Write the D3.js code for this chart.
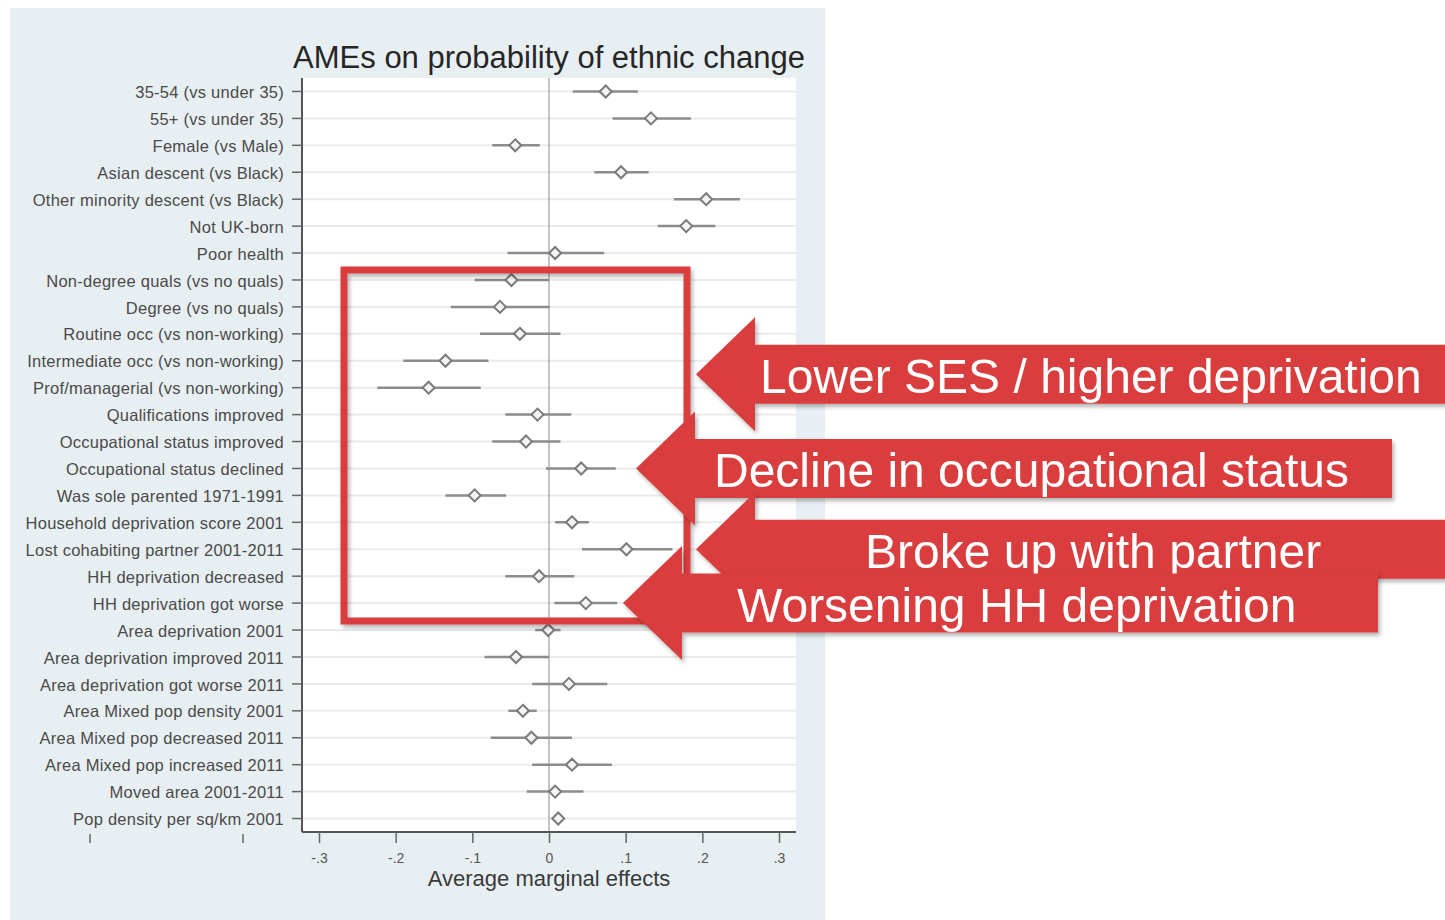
<!DOCTYPE html>
<html>
<head>
<meta charset="utf-8">
<script src="https://cdn.jsdelivr.net/npm/d3@7"></script>
<style>
  body { margin: 0; background: #ffffff; }
  svg { display: block; font-family: "Liberation Sans", Arial, sans-serif; }
</style>
</head>
<body>
<svg id="chart" width="1445" height="920"></svg>
<script>
// row labels, top to bottom
var labels = [
  "35-54 (vs under 35)", "55+ (vs under 35)", "Female (vs Male)",
  "Asian descent (vs Black)", "Other minority descent (vs Black)", "Not UK-born",
  "Poor health", "Non-degree quals (vs no quals)", "Degree (vs no quals)",
  "Routine occ (vs non-working)", "Intermediate occ (vs non-working)",
  "Prof/managerial (vs non-working)", "Qualifications improved",
  "Occupational status improved", "Occupational status declined",
  "Was sole parented 1971-1991", "Household deprivation score 2001",
  "Lost cohabiting partner 2001-2011", "HH deprivation decreased",
  "HH deprivation got worse", "Area deprivation 2001",
  "Area deprivation improved 2011", "Area deprivation got worse 2011",
  "Area Mixed pop density 2001", "Area Mixed pop decreased 2011",
  "Area Mixed pop increased 2011", "Moved area 2001-2011", "Pop density per sq/km 2001"
];
// average marginal effects and 95% CI
var ame = [0.074, 0.133, -0.044, 0.094, 0.205, 0.179, 0.008, -0.049, -0.064, -0.038,
  -0.135, -0.157, -0.015, -0.030, 0.042, -0.097, 0.030, 0.101, -0.013, 0.048,
  -0.001, -0.043, 0.026, -0.034, -0.023, 0.030, 0.008, 0.012];
var ciLow = [0.031, 0.083, -0.074, 0.059, 0.163, 0.142, -0.054, -0.097, -0.128, -0.090,
  -0.190, -0.224, -0.057, -0.074, -0.004, -0.135, 0.008, 0.043, -0.057, 0.007,
  -0.018, -0.084, -0.022, -0.053, -0.076, -0.022, -0.029, 0.006];
var ciHigh = [0.116, 0.185, -0.012, 0.130, 0.249, 0.217, 0.072, 0.000, 0.001, 0.015,
  -0.079, -0.089, 0.029, 0.015, 0.087, -0.056, 0.052, 0.161, 0.033, 0.089,
  0.015, 0.000, 0.076, -0.016, 0.030, 0.082, 0.045, 0.018];

var xTicks = [-0.3, -0.2, -0.1, 0, 0.1, 0.2, 0.3];
var xTickLabels = ["-.3", "-.2", "-.1", "0", ".1", ".2", ".3"];

var title = "AMEs on probability of ethnic change";
var xTitle = "Average marginal effects";

// callouts: text and the row each arrow points at
var calloutText = ["Lower SES / higher deprivation", "Decline in occupational status",
  "Broke up with partner", "Worsening HH deprivation"];

var rows = labels.map(function (l, i) {
  return { label: l, est: ame[i], lo: ciLow[i], hi: ciHigh[i] };
});

var svg = d3.select("#chart");
var red = "#da3d3d";

var defs = svg.append("defs");
var f = defs.append("filter").attr("id", "shadow")
  .attr("x", "-5%").attr("y", "-20%").attr("width", "115%").attr("height", "150%");
f.append("feDropShadow").attr("dx", 2).attr("dy", 3).attr("stdDeviation", 2)
  .attr("flood-color", "#000").attr("flood-opacity", 0.3);

// panel background
svg.append("rect").attr("x", 10).attr("y", 8).attr("width", 815).attr("height", 912)
  .attr("fill", "#e8eff2");

var plot = { left: 302, right: 796, top: 78, bottom: 832 };

var x = d3.scaleLinear().domain([-0.3, 0.3]).range([319, 779]);
var y = d3.scaleBand().domain(labels).range([plot.top, plot.bottom]);
var yc = function (l) { return y(l) + y.bandwidth() / 2; };

// plot region
svg.append("rect").attr("x", plot.left).attr("y", plot.top)
  .attr("width", plot.right - plot.left).attr("height", plot.bottom - plot.top)
  .attr("fill", "#ffffff");

// grid lines
svg.append("g").selectAll("line").data(labels).join("line")
  .attr("x1", plot.left).attr("x2", plot.right)
  .attr("y1", yc).attr("y2", yc)
  .attr("stroke", "#ebebeb").attr("stroke-width", 2);

// zero line
svg.append("line").attr("x1", x(0)).attr("x2", x(0))
  .attr("y1", plot.top).attr("y2", plot.bottom)
  .attr("stroke", "#8a8a8a").attr("stroke-width", 1);

// title
svg.append("text").attr("x", 549).attr("y", 68).attr("text-anchor", "middle")
  .attr("font-size", 31).attr("fill", "#262626").text(title);

// y axis
var yAxis = svg.append("g").attr("transform", "translate(" + plot.left + ",0)")
  .call(d3.axisLeft(y).tickSize(10).tickPadding(8));
yAxis.select(".domain").attr("stroke", "#555").attr("stroke-width", 2)
  .attr("d", "M0," + plot.top + "V" + plot.bottom);
yAxis.selectAll(".tick line").attr("stroke", "#666").attr("stroke-width", 1.5);
yAxis.selectAll(".tick text").attr("font-size", 16.5).attr("fill", "#4a4a4a")
  .attr("letter-spacing", 0.25).attr("dy", "0.4em")
  .attr("font-family", "Liberation Sans, Arial, sans-serif");

// x axis
var xAxis = svg.append("g").attr("transform", "translate(0," + plot.bottom + ")")
  .call(d3.axisBottom(x).tickValues(xTicks).tickSize(11).tickPadding(10)
    .tickFormat(function (d, i) { return xTickLabels[i]; }));
xAxis.select(".domain").attr("stroke", "#555").attr("stroke-width", 2)
  .attr("d", "M" + plot.left + ",0H" + plot.right);
xAxis.selectAll(".tick line").attr("stroke", "#666").attr("stroke-width", 1.5);
xAxis.selectAll(".tick text").attr("font-size", 14).attr("fill", "#555")
  .attr("font-family", "Liberation Sans, Arial, sans-serif");

svg.append("text").attr("x", 549).attr("y", 886).attr("text-anchor", "middle")
  .attr("font-size", 22).attr("fill", "#3a3a3a").text(xTitle);

// stray tick marks under the labels
svg.append("g").selectAll("line").data([90, 243]).join("line")
  .attr("x1", function (d) { return d; }).attr("x2", function (d) { return d; })
  .attr("y1", plot.bottom + 2).attr("y2", plot.bottom + 11)
  .attr("stroke", "#666").attr("stroke-width", 1.5);

// CI bars
svg.append("g").selectAll("line").data(rows).join("line")
  .attr("x1", function (d) { return x(d.lo); }).attr("x2", function (d) { return x(d.hi); })
  .attr("y1", function (d) { return yc(d.label); }).attr("y2", function (d) { return yc(d.label); })
  .attr("stroke", "#8c8c8c").attr("stroke-width", 2.5);

// hollow diamonds
svg.append("g").selectAll("path").data(rows).join("path")
  .attr("transform", function (d) { return "translate(" + x(d.est) + "," + yc(d.label) + ")"; })
  .attr("d", "M0,-6L6,0L0,6L-6,0Z")
  .attr("fill", "#f4f4f4").attr("stroke", "#7a7a7a").attr("stroke-width", 2);

// highlight box
svg.append("rect").attr("x", 344).attr("y", 270).attr("width", 343).attr("height", 351)
  .attr("fill", "none").attr("stroke", red).attr("stroke-width", 7)
  .attr("filter", "url(#shadow)");

// callout arrows
function arrow(tipX, tipY, rightX, text, textX) {
  var head = 59, headH = 57, bodyH = 29.5;
  var g = svg.append("g").attr("filter", "url(#shadow)");
  var pts = [
    [tipX, tipY], [tipX + head, tipY - headH], [tipX + head, tipY - bodyH],
    [rightX, tipY - bodyH], [rightX, tipY + bodyH], [tipX + head, tipY + bodyH],
    [tipX + head, tipY + headH]
  ];
  g.append("path").attr("d", "M" + pts.join("L") + "Z").attr("fill", red);
  g.append("text").attr("x", textX).attr("y", tipY + 19)
    .attr("font-size", 48).attr("fill", "#ffffff").text(text);
}
arrow(696, (yc(labels[10]) + yc(labels[11])) / 2, 1460, calloutText[0], 760);
arrow(636, yc(labels[14]), 1392, calloutText[1], 714);
arrow(696, yc(labels[17]), 1460, calloutText[2], 865);
arrow(623, yc(labels[19]), 1378, calloutText[3], 737);
</script>
</body>
</html>
